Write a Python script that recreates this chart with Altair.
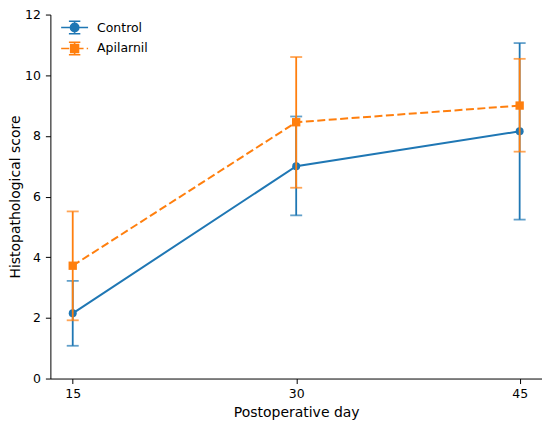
import altair as alt
import pandas as pd

days = [15, 30, 45]
series_names = ["Control", "Apilarnil"]
series_colors = ["#1f77b4", "#ff7f0e"]

control_mean = [2.15, 7.0, 8.15]
control_low = [1.08, 5.38, 5.24]
control_high = [3.22, 8.64, 11.06]

apil_mean = [3.72, 8.45, 9.0]
apil_low = [1.92, 6.29, 7.48]
apil_high = [5.51, 10.6, 10.54]

y_ticks = [0, 2, 4, 6, 8, 10, 12]
x_ticks = [15, 30, 45]

FONT = "DejaVu Sans"

x_scale = alt.Scale(domain=[13.5, 46.5], nice=False, zero=False)
y_scale = alt.Scale(domain=[0, 12], nice=False, zero=True)
x_axis = alt.Axis(values=x_ticks, title="Postoperative day", labelPadding=4, titlePadding=6)
y_axis = alt.Axis(values=y_ticks, title="Histopathological score", labelPadding=5, titlePadding=2)


def X():
    return alt.X("day:Q", scale=x_scale, axis=x_axis)


def Y(field):
    return alt.Y(f"{field}:Q", scale=y_scale, axis=y_axis)


def series_layers(name, mean, low, high, color, shape, msize, dash):
    df = pd.DataFrame({"day": days, "mean": mean, "low": low, "high": high, "series": name})
    base = alt.Chart(df)
    bars = base.mark_rule(strokeWidth=1.8, color=color).encode(x=X(), y=Y("low"), y2="high:Q")
    cap_lo = base.mark_tick(orient="horizontal", size=12, thickness=1.8, color=color).encode(
        x=X(), y=Y("low"))
    cap_hi = base.mark_tick(orient="horizontal", size=12, thickness=1.8, color=color).encode(
        x=X(), y=Y("high"))
    line_kw = dict(strokeWidth=2, color=color)
    if dash:
        line_kw["strokeDash"] = dash
    line = base.mark_line(**line_kw).encode(x=X(), y=Y("mean"))
    pts = base.mark_point(filled=True, shape=shape, size=msize, color=color, opacity=1).encode(
        x=X(), y=Y("mean"))
    return [bars, cap_lo, cap_hi, line, pts]


layers = []
layers += series_layers("Control", control_mean, control_low, control_high,
                        series_colors[0], "circle", 64, None)
layers += series_layers("Apilarnil", apil_mean, apil_low, apil_high,
                        series_colors[1], "square", 70, [8, 3.5])

# legend glyphs: line + error bar + marker
path_control = ("M-2,0H2M0,-0.93V0.93M-0.85,-0.93H0.85M-0.85,0.93H0.85"
                "M0.62,0A0.62,0.62,0,1,1,-0.62,0A0.62,0.62,0,1,1,0.62,0Z")
path_apil = ("M-2,0H-0.8M-0.4,0H0.4M0.7,0H1.33M1.8,0H2"
             "M0,-0.93V0.93M-0.85,-0.93H0.85M-0.85,0.93H0.85"
             "M-0.58,-0.58H0.58V0.58H-0.58Z")

legend_df = pd.DataFrame({
    "day": days + days,
    "mean": control_mean + apil_mean,
    "series": ["Control"] * 3 + ["Apilarnil"] * 3,
})
leg = alt.Legend(
    title=None, orient="none", legendX=16.3, legendY=5,
    symbolSize=182, symbolStrokeWidth=1.6, symbolOpacity=1,
    labelFont=FONT, labelFontSize=12.5, labelColor="black",
    labelOffset=14.5, rowPadding=1, padding=0,
)
legend_layer = alt.Chart(legend_df).mark_point(filled=True, opacity=0, strokeWidth=1.6).encode(
    x=X(), y=Y("mean"),
    fill=alt.Fill("series:N", scale=alt.Scale(domain=series_names, range=series_colors), legend=leg),
    stroke=alt.Stroke("series:N", scale=alt.Scale(domain=series_names, range=series_colors), legend=leg),
    shape=alt.Shape("series:N", scale=alt.Scale(domain=series_names, range=[path_control, path_apil]),
                    legend=leg),
)
layers.append(legend_layer)

chart = alt.layer(*layers).properties(
    width=493, height=365,
    autosize=alt.AutoSizeParams(type="none"),
    padding={"left": 42.5, "top": 6, "right": 0, "bottom": 43},
    background="white",
).configure_view(stroke=None).configure_axis(
    grid=False, domainColor="black", domainWidth=1, tickColor="black", tickWidth=1,
    tickSize=5, labelFont=FONT, labelFontSize=12.5, labelColor="black",
    titleFont=FONT, titleFontSize=14, titleFontWeight="normal", titleColor="black",
)

chart.save("out.html", embed_options={"renderer": "svg", "actions": False})
